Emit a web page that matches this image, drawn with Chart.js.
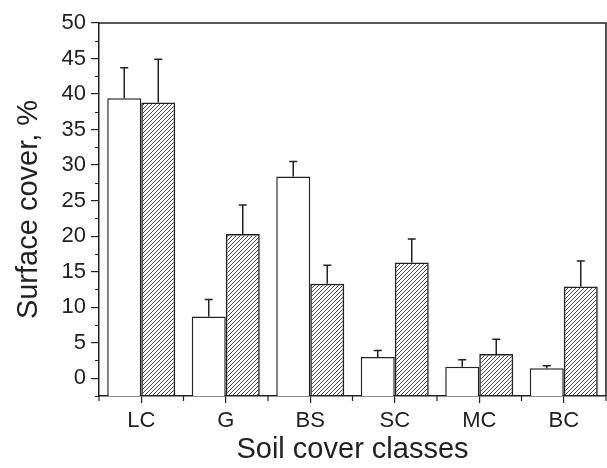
<!DOCTYPE html>
<html>
<head>
<meta charset="utf-8">
<script src="https://cdn.jsdelivr.net/npm/chart.js@4/dist/chart.umd.min.js"></script>
<style>
  html, body { margin: 0; padding: 0; background: #fff; }
  #wrap { width: 607px; height: 468px; }
</style>
</head>
<body>
<div id="wrap"><canvas id="c" width="607" height="468"></canvas></div>
<script>
var categories = ["LC", "G", "BS", "SC", "MC", "BC"];
var openValues = [39.4, 8.7, 28.4, 3.0, 1.6, 1.4];
var openErrors = [4.3, 2.4, 2.1, 0.9, 1.0, 0.35];
var hatchValues = [38.8, 20.3, 13.3, 16.3, 3.4, 12.9];
var hatchErrors = [6.1, 4.1, 2.6, 3.3, 2.1, 3.6];
var yTicks = [0, 5, 10, 15, 20, 25, 30, 35, 40, 45, 50];
var yMinorTicks = [-2.5, 2.5, 7.5, 12.5, 17.5, 22.5, 27.5, 32.5, 37.5, 42.5, 47.5];

var ink = "#222";
var face = "Arial, 'Liberation Sans'";

// diagonal hatch tile
function makeHatch() {
	var t = document.createElement("canvas");
	t.width = 4; t.height = 4;
	var g = t.getContext("2d");
	g.strokeStyle = "#333";
	g.lineWidth = 0.9;
	g.beginPath();
	g.moveTo(0, 4); g.lineTo(4, 0);
	g.moveTo(-1, 1); g.lineTo(1, -1);
	g.moveTo(3, 5); g.lineTo(5, 3);
	g.stroke();
	return document.getElementById("c").getContext("2d").createPattern(t, "repeat");
}

var errorBars = {
	id: "errorBars",
	afterDatasetsDraw(chart) {
		var ctx = chart.ctx;
		var y = chart.scales.y;
		var errs = [openErrors, hatchErrors];
		ctx.save();
		ctx.strokeStyle = ink;
		ctx.lineWidth = 1.5;
		chart.data.datasets.forEach(function (ds, di) {
			chart.getDatasetMeta(di).data.forEach(function (bar, i) {
				var top = y.getPixelForValue(ds.data[i] + errs[di][i]);
				ctx.beginPath();
				ctx.moveTo(bar.x, bar.y);
				ctx.lineTo(bar.x, top);
				ctx.moveTo(bar.x - 4, top);
				ctx.lineTo(bar.x + 4, top);
				ctx.stroke();
			});
		});
		ctx.restore();
	}
};

var frameAndMinor = {
	id: "frameAndMinor",
	afterDraw(chart) {
		var ctx = chart.ctx;
		var a = chart.chartArea;
		var x = chart.scales.x;
		var y = chart.scales.y;
		ctx.save();
		ctx.strokeStyle = ink;
		ctx.lineWidth = 1.5;
		ctx.beginPath();
		ctx.moveTo(a.left, a.top);
		ctx.lineTo(a.right, a.top);
		ctx.lineTo(a.right, a.bottom);
		ctx.stroke();
		ctx.lineWidth = 1.2;
		ctx.beginPath();
		yMinorTicks.forEach(function (v) {
			var py = Math.round(y.getPixelForValue(v)) + 0.5;
			ctx.moveTo(a.left - 4, py);
			ctx.lineTo(a.left, py);
		});
		for (var i = 0; i <= categories.length; i++) {
			var px = (x.getPixelForValue(i - 1) + x.getPixelForValue(i)) / 2;
			if (i === 0) px = a.left;
			if (i === categories.length) px = a.right;
			ctx.moveTo(px, a.bottom);
			ctx.lineTo(px, a.bottom + 5);
		}
		ctx.stroke();
		ctx.restore();
	}
};

new Chart(document.getElementById("c"), {
	type: "bar",
	data: {
		labels: categories,
		datasets: [{
			data: openValues,
			base: -2.5,
			backgroundColor: "#fff",
			borderColor: ink,
			borderWidth: 1.5
		}, {
			data: hatchValues,
			base: -2.5,
			backgroundColor: makeHatch(),
			borderColor: ink,
			borderWidth: 1.5
		}]
	},
	options: {
		responsive: false,
		animation: false,
		layout: { padding: { top: 23, right: 1, left: 0, bottom: 0 } },
		plugins: { legend: { display: false }, tooltip: { enabled: false } },
		datasets: { bar: { categoryPercentage: 0.805, barPercentage: 1.0 } },
		scales: {
			x: {
				grid: { display: true, offset: false, drawOnChartArea: false, tickLength: 7, color: ink, lineWidth: 1.2 },
				border: { display: true, color: ink, width: 1.5 },
				ticks: { color: ink, padding: 5, font: { family: face, size: 22 } },
				title: { display: true, text: "Soil cover classes", color: ink, padding: { top: 0, bottom: 4 },
					font: { family: face, size: 29, lineHeight: 1 } },
				afterFit: function (s) { s.height = 72; }
			},
			y: {
				min: -2.5,
				max: 50,
				afterBuildTicks: function (s) { s.ticks = yTicks.map(function (v) { return { value: v }; }); },
				grid: { display: true, drawOnChartArea: false, tickLength: 8, color: ink, lineWidth: 1.2 },
				border: { display: true, color: ink, width: 1.5 },
				ticks: { color: ink, padding: 5, font: { family: face, size: 22 } },
				title: { display: true, text: "Surface cover, %", color: ink, padding: { top: 14, bottom: 0 },
					font: { family: face, size: 29, lineHeight: 1 } },
				afterFit: function (s) { s.width = 99; }
			}
		}
	},
	plugins: [errorBars, frameAndMinor]
});
</script>
</body>
</html>
